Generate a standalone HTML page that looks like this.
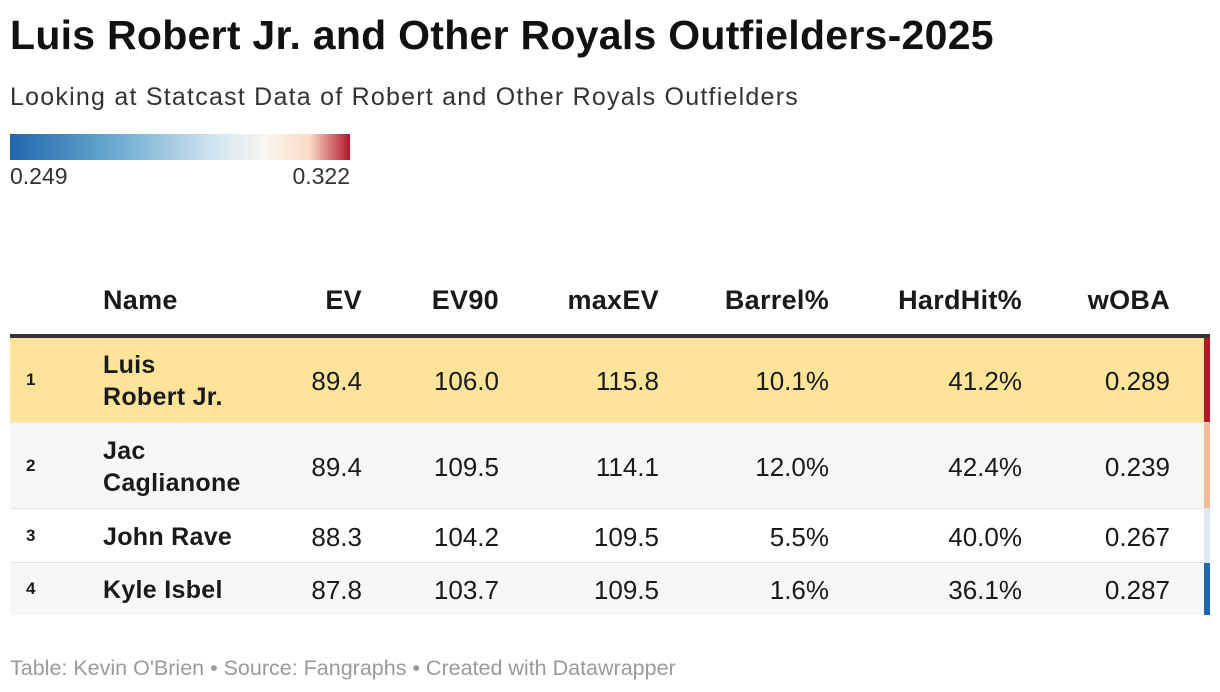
<!DOCTYPE html>
<html><head><meta charset="utf-8"><style>
body{margin:0;width:1220px;height:692px;background:#fff;font-family:"Liberation Sans",sans-serif;color:#1a1a1a;position:relative;overflow:hidden}
.a{position:absolute;white-space:nowrap}
.h{font-weight:bold;font-size:27px;top:285px;letter-spacing:0.3px}
.r{text-align:right}
.row{position:absolute;left:10px;width:1200px}
.c{position:absolute;font-size:26px;text-align:right}
.nm{position:absolute;left:93px;font-size:25px;font-weight:bold;line-height:32px;letter-spacing:0.3px}
.rk{position:absolute;left:16px;font-size:17px;font-weight:bold}
.bar{position:absolute;right:0;width:6px;top:0;bottom:0}
</style></head><body>
<div class="a" style="left:10px;top:12px;font-size:41px;letter-spacing:0.27px;font-weight:bold;color:#111">Luis Robert Jr. and Other Royals Outfielders-2025</div>
<div class="a" style="left:10px;top:83px;font-size:25px;letter-spacing:1.23px;color:#333">Looking at Statcast Data of Robert and Other Royals Outfielders</div>
<div class="a" style="left:10px;top:134px;width:340px;height:26px;background:linear-gradient(to right,#2166ac 0%,#67a9cf 30%,#d1e5f0 60%,#f7f7f0 75%,#fddbc7 88%,#b2182b 100%)"></div>
<div class="a" style="left:10px;top:163px;font-size:23px;color:#333">0.249</div>
<div class="a" style="right:870px;top:163px;font-size:23px;color:#333">0.322</div>

<div class="a h" style="left:103px">Name</div>
<div class="a h r" style="right:858px">EV</div>
<div class="a h r" style="right:721px">EV90</div>
<div class="a h r" style="right:561px">maxEV</div>
<div class="a h r" style="right:391px">Barrel%</div>
<div class="a h r" style="right:198px">HardHit%</div>
<div class="a h r" style="right:50px">wOBA</div>
<div class="a" style="left:10px;top:334px;width:1200px;height:4px;background:#333"></div>

<div id="rows"></div>
<div class="a" style="left:10px;top:656px;font-size:21.5px;color:#9a9a9a">Table: Kevin O'Brien • Source: Fangraphs • Created with Datawrapper</div>
<script>
const names=[["Luis","Robert Jr."],["Jac","Caglianone"],["John Rave"],["Kyle Isbel"]];
const ev=["89.4","89.4","88.3","87.8"];
const ev90=["106.0","109.5","104.2","103.7"];
const maxev=["115.8","114.1","109.5","109.5"];
const barrel=["10.1%","12.0%","5.5%","1.6%"];
const hardhit=["41.2%","42.4%","40.0%","36.1%"];
const woba=["0.289","0.239","0.267","0.287"];
const barColors=["#b2182b","#f4b89c","#dbe9ef","#2166ac"];
const bgs=["#fee49b","#f7f7f7","#ffffff","#f7f7f7"];
const tops=[338,423,509,563], hs=[84,85,53,52];
const rightEdges=[848,711,551,381,188,40];
const cols=[ev,ev90,maxev,barrel,hardhit,woba];
const host=document.getElementById('rows');
names.forEach((n,i)=>{
 const r=document.createElement('div');r.className='row';
 
 
 r.style.top=tops[i]+'px';r.style.height=hs[i]+'px';r.style.background=bgs[i];
 r.style.borderBottom=i<3?'1px solid #e4e4e4':'none';
 const mid=hs[i]/2;
 let html='<div class="rk" style="top:'+(mid-10)+'px">'+(i+1)+'</div>';
 html+='<div class="nm" style="top:'+(mid-n.length*16+1)+'px">'+n.join('<br>')+'</div>';
 cols.forEach((c,j)=>{html+='<div class="c" style="right:'+rightEdges[j]+'px;top:'+(mid-14)+'px">'+c[i]+'</div>';});
 html+='<div class="bar" style="background:'+barColors[i]+'"></div>';
 r.innerHTML=html;
 host.appendChild(r);
});
</script>
</body></html>
